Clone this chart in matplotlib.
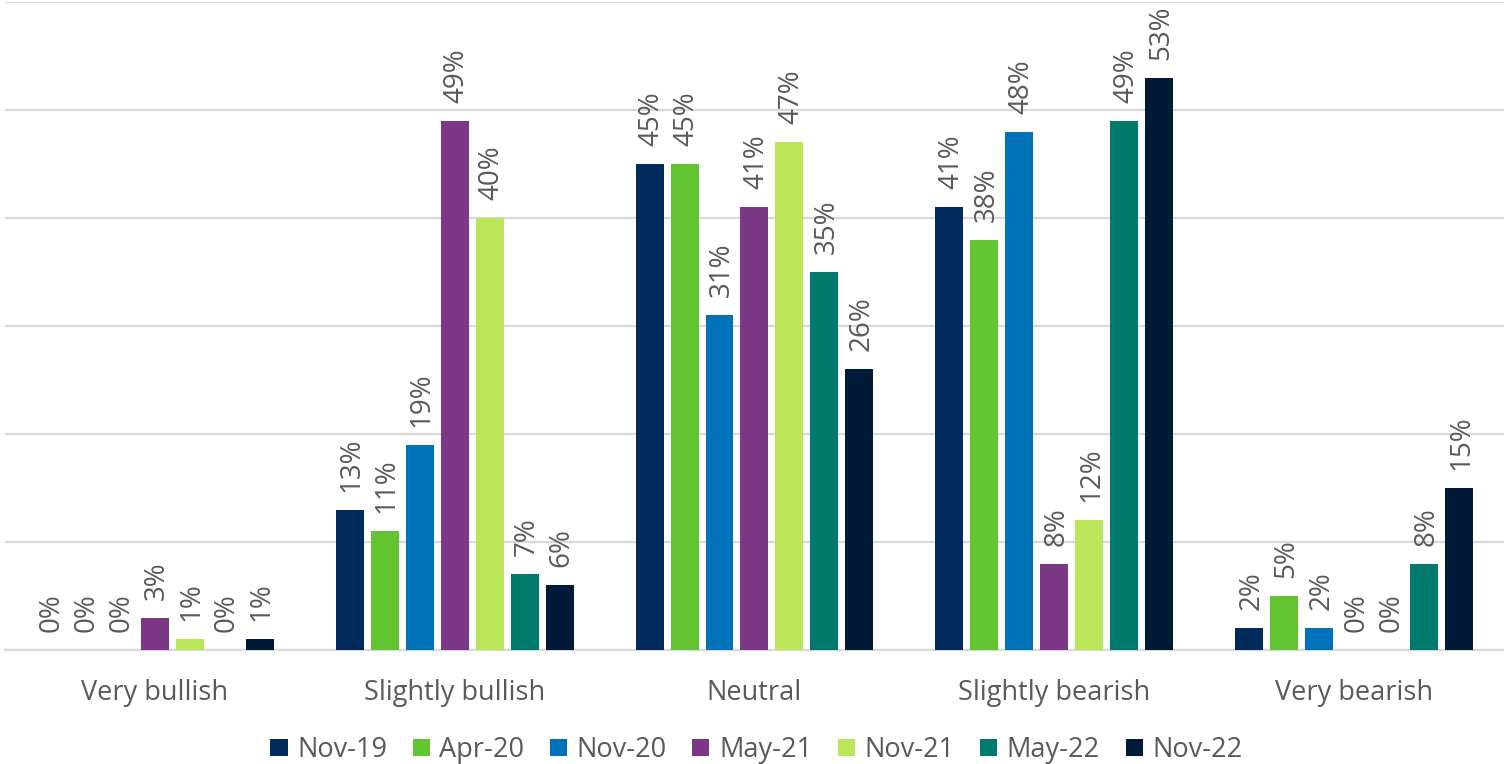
import matplotlib.pyplot as plt
import numpy as np

plt.rcParams['font.family'] = ['Open Sans', 'DejaVu Sans']

categories = ['Very bullish', 'Slightly bullish', 'Neutral', 'Slightly bearish', 'Very bearish']
series = ['Nov-19', 'Apr-20', 'Nov-20', 'May-21', 'Nov-21', 'May-22', 'Nov-22']

nov19 = [0, 13, 45, 41, 2]
apr20 = [0, 11, 45, 38, 5]
nov20 = [0, 19, 31, 48, 2]
may21 = [3, 49, 41, 8, 0]
nov21 = [1, 40, 47, 12, 0]
may22 = [0, 7, 35, 49, 8]
nov22 = [1, 6, 26, 53, 15]

values = [nov19, apr20, nov20, may21, nov21, may22, nov22]
colors = ['#002B5C', '#63C432', '#0072B9', '#7D3787', '#BBE65A', '#007A6C', '#001A38']

text_color = '#595959'
grid_color = '#D9D9D9'

fig = plt.figure(figsize=(15.04, 7.64), dpi=100)
ax = fig.add_axes([0.0033, 114 / 764, 0.9967, 648 / 764])

x = np.arange(len(categories))
pitch = 35 / 300
width = 28 / 300

for i, (name, vals, col) in enumerate(zip(series, values, colors)):
    pos = x + (i - 3) * pitch
    bars = ax.bar(pos, vals, width, color=col, label=name, zorder=3)
    for b, v in zip(bars, vals):
        ax.annotate(f'{v}%', (b.get_x() + b.get_width() / 2, v),
                    xytext=(1.5, 13), textcoords='offset points',
                    rotation=90, ha='center', va='bottom',
                    fontsize=20, color=text_color)

ax.set_xlim(-0.5, 4.5)
ax.set_ylim(0, 60)
ax.set_yticks(np.arange(0, 61, 10))
ax.yaxis.grid(True, color=grid_color, linewidth=1.6, zorder=0)
ax.tick_params(axis='y', left=False, labelleft=False)
ax.set_xticks(x)
ax.set_xticklabels(categories, fontsize=19.5, color=text_color)
ax.tick_params(axis='x', length=0, pad=21)
for side in ['top', 'right', 'left']:
    ax.spines[side].set_visible(False)
ax.spines['bottom'].set_color(grid_color)
ax.spines['bottom'].set_linewidth(1.6)

fig.legend(loc='center', bbox_to_anchor=(0.503, 14 / 764), ncol=7, frameon=False,
           fontsize=19.5, labelcolor=text_color, handlelength=0.63, handleheight=0.63,
           handletextpad=0.35, columnspacing=0.95)

fig.savefig('out.png', dpi=100)
